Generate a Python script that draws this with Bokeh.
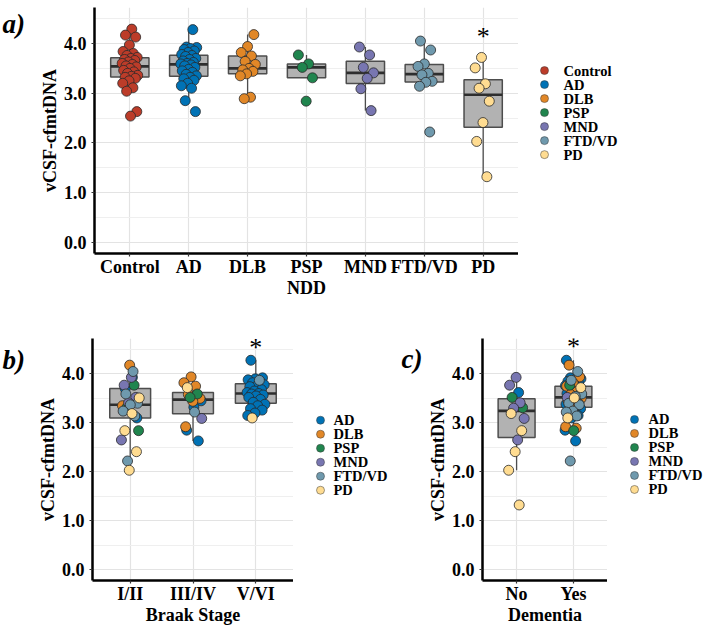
import numpy as np
from bokeh.plotting import figure
from bokeh.models import Range1d, FixedTicker, PrintfTickFormatter, CustomJSTickFormatter
from bokeh.layouts import column, row
from bokeh.embed import file_html
from bokeh.resources import INLINE
from bokeh.core.properties import value

# ------------------------------------------------------------------ data
diagnoses = ["Control", "AD", "DLB", "PSP", "MND", "FTD/VD", "PD"]
colors = ["#BC3C29", "#0072B5", "#E18727", "#20854E", "#7876B1", "#6F99AD", "#FFDC91"]
braak_stages = ["I/II", "III/IV", "V/VI"]
dementia_levels = ["No", "Yes"]
y_ticks = [0, 1, 2, 3, 4]
y_minor = [0.5, 1.5, 2.5, 3.5, 4.5]
y_limits = (0.0, 4.5)

control_vals = [4.29, 4.17, 4.13, 3.97, 3.84, 3.80, 3.76, 3.72, 3.70, 3.68,
                3.66, 3.63, 3.60, 3.58, 3.55, 3.53, 3.50, 3.46, 3.43, 3.40,
                3.36, 3.34, 3.32, 3.30, 3.25, 3.20, 3.11, 3.04, 2.63, 2.54]

ad_vals = [4.28, 3.93, 3.92, 3.90, 3.88, 3.85, 3.82, 3.78, 3.76, 3.74,
           3.70, 3.68, 3.65, 3.62, 3.60, 3.59, 3.57, 3.55, 3.52, 3.48,
           3.45, 3.42, 3.38, 3.35, 3.32, 3.29, 3.26, 3.20, 3.15, 3.10,
           2.85, 2.63]
ad_braak = ["V/VI", "I/II", "V/VI", "V/VI", "V/VI", "V/VI", "V/VI", "V/VI", "V/VI", "V/VI",
            "I/II", "V/VI", "V/VI", "V/VI", "V/VI", "V/VI", "V/VI", "V/VI", "V/VI", "V/VI",
            "III/IV", "V/VI", "V/VI", "V/VI", "III/IV", "V/VI", "V/VI", "V/VI", "V/VI", "I/II",
            "III/IV", "III/IV"]
ad_dementia = ["Yes", "Yes", "Yes", "Yes", "Yes", "Yes", "Yes", "Yes", "Yes", "Yes",
               "Yes", "Yes", "Yes", "No", "Yes", "Yes", "Yes", "Yes", "Yes", "Yes",
               "Yes", "Yes", "Yes", "Yes", "Yes", "Yes", "Yes", "Yes", "Yes", "Yes",
               "Yes", "Yes"]

dlb_vals = [4.18, 3.94, 3.82, 3.75, 3.64, 3.58, 3.50, 3.47, 3.44, 3.39, 3.35, 2.92, 2.89]
dlb_braak = ["I/II", "III/IV", "III/IV", "III/IV", None, "III/IV", "III/IV", None,
             "III/IV", None, "I/II", "III/IV", None]
dlb_dementia = ["Yes"] * 13

psp_vals = [3.77, 3.59, 3.52, 3.31, 2.84]
psp_braak = ["I/II", "III/IV", "III/IV", "I/II", "I/II"]
psp_dementia = ["Yes", "Yes", "No", "No", "Yes"]

mnd_vals = [3.93, 3.77, 3.52, 3.41, 3.30, 3.09, 2.65]
mnd_braak = ["I/II", "I/II", "I/II", "I/II", None, "III/IV", "I/II"]
mnd_dementia = ["No", "No", "Yes", "No", "No", "No", "No"]

ftd_vals = [4.05, 3.87, 3.59, 3.54, 3.40, 3.37, 3.24, 3.22, 3.14, 2.22]
ftd_braak = ["I/II", "V/VI", "I/II", None, "I/II", "I/II", "I/II", "III/IV", "I/II", "I/II"]
ftd_dementia = ["Yes"] * 10

pd_vals = [3.72, 3.51, 3.19, 3.10, 2.84, 2.41, 2.03, 1.32]
pd_braak = ["III/IV", "I/II", "I/II", "V/VI", "I/II", "I/II", "I/II", None]
pd_dementia = ["Yes", "Yes", "No", "Yes", "No", "No", "No", "No"]

# significance marks: (category, y value)
sig_a = ("PD", 4.14)
sig_b = ("V/VI", 4.54)
sig_c = ("Yes", 4.57)

# ------------------------------------------------------------------ style
FONT = "Liberation Serif"
GRID_MAJOR = "#E3E3E3"
GRID_MINOR = "#EFEFEF"
BOX_FILL = "#B2B2B2"
BOX_LINE = "#4D4D4D"
PT_LINE = "#2A2A2A"
Y_PAD = 0.05 * (y_limits[1] - y_limits[0])
Y_LO, Y_HI = y_limits[0] - Y_PAD, y_limits[1] + Y_PAD

ndd = [
    ("AD", ad_vals, ad_braak, ad_dementia),
    ("DLB", dlb_vals, dlb_braak, dlb_dementia),
    ("PSP", psp_vals, psp_braak, psp_dementia),
    ("MND", mnd_vals, mnd_braak, mnd_dementia),
    ("FTD/VD", ftd_vals, ftd_braak, ftd_dementia),
    ("PD", pd_vals, pd_braak, pd_dementia),
]
color_of = dict(zip(diagnoses, colors))


def jitter(n, width=0.14, phase=0.0):
    return [width * (2 * (((k + 1) * 0.6180339887 + phase) % 1.0) - 1) for k in range(n)]


def box_stats(vals):
    v = np.asarray(vals, dtype=float)
    q1, q2, q3 = np.percentile(v, [25, 50, 75])
    iqr = q3 - q1
    lo = v[v >= q1 - 1.5 * iqr].min()
    hi = v[v <= q3 + 1.5 * iqr].max()
    return q1, q2, q3, lo, hi


def panel(cats, cw, ch, left, top, bottom, title, title_standoff):
    n = len(cats)
    p = figure(width=cw, height=ch, x_range=Range1d(0.4, n + 0.6), y_range=Range1d(Y_LO, Y_HI),
               output_backend="svg", toolbar_location=None,
               min_border_left=left, min_border_right=0, min_border_top=top,
               min_border_bottom=bottom)
    p.outline_line_color = None
    p.background_fill_color = "white"
    p.border_fill_color = "white"
    xt = FixedTicker(ticks=list(range(1, n + 1)))
    yt = FixedTicker(ticks=y_ticks, minor_ticks=y_minor)
    p.xaxis.ticker = xt
    p.xaxis.formatter = CustomJSTickFormatter(
        args=dict(labels=cats),
        code="const i = Math.round(tick) - 1; return (i >= 0 && i < labels.length) ? labels[i] : '';")
    p.yaxis.ticker = yt
    p.yaxis.formatter = PrintfTickFormatter(format="%.1f")
    p.xgrid.ticker = xt
    p.ygrid.ticker = yt
    p.xgrid.grid_line_color = GRID_MAJOR
    p.ygrid.grid_line_color = GRID_MAJOR
    p.ygrid.minor_grid_line_color = GRID_MINOR
    p.xgrid.grid_line_width = 1.2
    p.ygrid.grid_line_width = 1.2
    for ax in (p.xaxis[0], p.yaxis[0]):
        ax.axis_line_color = "black"
        ax.axis_line_width = 2.5
        ax.major_tick_line_color = "#333333"
        ax.major_tick_line_width = 1.2
        ax.major_tick_out = 3
        ax.major_tick_in = 0
        ax.minor_tick_line_color = None
        ax.major_label_text_font = FONT
        ax.major_label_text_font_style = "bold"
        ax.major_label_text_font_size = "18px"
        ax.major_label_text_color = "black"
        ax.axis_label_text_font = FONT
        ax.axis_label_text_font_style = "bold"
        ax.axis_label_text_font_size = "18px"
        ax.axis_label_text_color = "black"
    p.xaxis.major_label_standoff = 0
    p.yaxis.major_label_standoff = 4
    p.yaxis.axis_label = "vCSF-cfmtDNA"
    p.yaxis.axis_label_standoff = 1
    p.xaxis.axis_label = title
    p.xaxis.axis_label_standoff = title_standoff
    return p


def draw_boxes(p, groups):
    xs, q1s, q2s, q3s, los, his = [], [], [], [], [], []
    for i, vals in enumerate(groups):
        q1, q2, q3, lo, hi = box_stats(vals)
        xs.append(i + 1); q1s.append(q1); q2s.append(q2); q3s.append(q3); los.append(lo); his.append(hi)
    bw = 0.65
    p.segment(x0=xs, y0=q3s, x1=xs, y1=his, line_color=BOX_LINE, line_width=1.3)
    p.segment(x0=xs, y0=q1s, x1=xs, y1=los, line_color=BOX_LINE, line_width=1.3)
    p.vbar(x=xs, width=bw, top=q3s, bottom=q1s, fill_color=BOX_FILL, line_color=BOX_LINE, line_width=1.5)
    p.segment(x0=[x - bw / 2 for x in xs], y0=q2s, x1=[x + bw / 2 for x in xs], y1=q2s,
              line_color="#2E2E2E", line_width=2.6)


def draw_points(p, xs, ys, cols):
    p.scatter(x=xs, y=ys, size=10, fill_color=cols, line_color=PT_LINE, line_width=0.8)


def add_sig(p, cats, sig):
    cat, yv = sig
    p.text(x=[cats.index(cat) + 1], y=[yv], text=["*"], text_font=value(FONT),
           text_font_size="26px", text_align="center", text_baseline="middle", text_color="black")


def blank_fig(w, h):
    lp = figure(width=w, height=h, x_range=Range1d(0, w), y_range=Range1d(h, 0),
                output_backend="svg", toolbar_location=None, x_axis_type=None, y_axis_type=None,
                min_border_left=0, min_border_right=0, min_border_top=0, min_border_bottom=0)
    lp.outline_line_color = None
    lp.grid.visible = False
    lp.background_fill_color = "white"
    lp.border_fill_color = "white"
    return lp


def add_letter(fp, x, y, text):
    fp.text(x=[x], y=[y], text=[text], text_font=value(FONT), text_font_style="bold italic",
            text_font_size="27px", text_baseline="alphabetic", text_align="left", text_color="black")


def legend_fig(w, h, labels, dot_x, text_x, y0, step=18):
    lp = blank_fig(w, h)
    ys = [y0 + i * step for i in range(len(labels))]
    lp.scatter(x=[dot_x] * len(labels), y=ys, size=8, fill_color=[color_of[l] for l in labels],
               line_color="#3A3A3A", line_width=0.5)
    lp.text(x=[text_x] * len(labels), y=ys, text=labels, text_font=value(FONT),
            text_font_style="bold", text_font_size="14.5px", text_baseline="middle",
            text_align="left", text_color="black")
    return lp


ROW1_H, ROW2_H = 316, 311

# ---------------------------------------------------------------- panel a
strip_a = blank_fig(36, ROW1_H)
add_letter(strip_a, 2, 21, "a)")
pa = panel(diagnoses, 482, ROW1_H, 51, 7, ROW1_H - 253, "NDD", -2)
a_groups = [control_vals] + [d[1] for d in ndd]
draw_boxes(pa, a_groups)
xs, ys, cs = [], [], []
for i, vals in enumerate(a_groups):
    jit = jitter(len(vals), phase=0.13 * i)
    for v, j in zip(vals, jit):
        xs.append(i + 1 + j); ys.append(v); cs.append(colors[i])
draw_points(pa, xs, ys, cs)
add_sig(pa, diagnoses, sig_a)
leg_a = legend_fig(190, ROW1_H, diagnoses, 26, 45, 81)

# ---------------------------------------------------------------- panel b
strip_b = blank_fig(34, ROW2_H)
add_letter(strip_b, 2, 27, "b)")
pb = panel(braak_stages, 259, ROW2_H, 51, 22, 44, "Braak Stage", -2)
b_vals = {s: [] for s in braak_stages}
b_cols = {s: [] for s in braak_stages}
for name, vals, braak, dem in ndd:
    for v, s in zip(vals, braak):
        if s is not None:
            b_vals[s].append(v); b_cols[s].append(color_of[name])
draw_boxes(pb, [b_vals[s] for s in braak_stages])
xs, ys, cs = [], [], []
for i, s in enumerate(braak_stages):
    jit = jitter(len(b_vals[s]), width=0.15, phase=0.31 * i)
    for v, c, j in zip(b_vals[s], b_cols[s], jit):
        xs.append(i + 1 + j); ys.append(v); cs.append(c)
draw_points(pb, xs, ys, cs)
add_sig(pb, braak_stages, sig_b)
leg_b = legend_fig(131, ROW2_H, diagnoses[1:], 27, 40, 105)
add_letter(leg_b, 108, 26, "c)")

# ---------------------------------------------------------------- panel c
pc = panel(dementia_levels, 183, ROW2_H, 51, 22, 44, "Dementia", -2)
c_vals = {s: [] for s in dementia_levels}
c_cols = {s: [] for s in dementia_levels}
for name, vals, braak, dem in ndd:
    for v, s in zip(vals, dem):
        c_vals[s].append(v); c_cols[s].append(color_of[name])
draw_boxes(pc, [c_vals[s] for s in dementia_levels])
xs, ys, cs = [], [], []
for i, s in enumerate(dementia_levels):
    jit = jitter(len(c_vals[s]), width=0.15, phase=0.47 * i)
    for v, c, j in zip(c_vals[s], c_cols[s], jit):
        xs.append(i + 1 + j); ys.append(v); cs.append(c)
draw_points(pc, xs, ys, cs)
add_sig(pc, dementia_levels, sig_c)
leg_c = legend_fig(101, ROW2_H, diagnoses[1:], 27, 41, 104)

layout = column(row(strip_a, pa, leg_a), row(strip_b, pb, leg_b, pc, leg_c))
open("out.html", "w").write(file_html(layout, INLINE))
